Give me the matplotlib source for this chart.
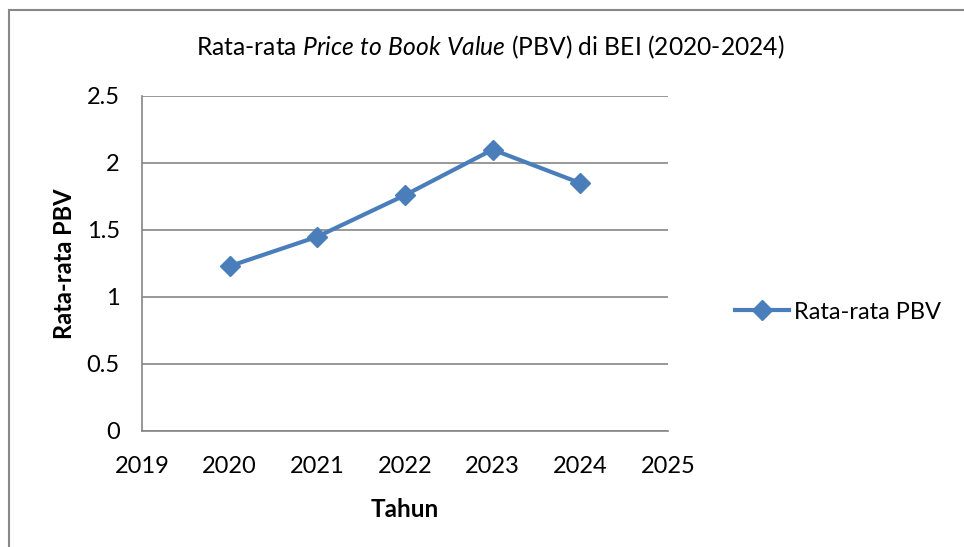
import matplotlib.pyplot as plt
from matplotlib.patches import Rectangle

# data
years = [2020, 2021, 2022, 2023, 2024]
pbv = [1.23, 1.45, 1.76, 2.10, 1.85]
x_ticks = [2019, 2020, 2021, 2022, 2023, 2024, 2025]
y_ticks = [0, 0.5, 1, 1.5, 2, 2.5]
y_tick_labels = ["0", "0.5", "1", "1.5", "2", "2.5"]

plt.rcParams["font.family"] = ["Lato", "DejaVu Sans"]
plt.rcParams["mathtext.fontset"] = "custom"
plt.rcParams["mathtext.rm"] = "Lato"
plt.rcParams["mathtext.it"] = "Lato:italic"

fig = plt.figure(figsize=(9.64, 5.47), dpi=100)
ax = fig.add_axes([0.1473, 0.2121, 0.5456, 0.6124])

# outer chart border
fig.patches.append(Rectangle((9 / 964, -0.1), 1.2, 1 - 10 / 547 + 0.1,
                             transform=fig.transFigure, fill=False,
                             edgecolor="#888888", linewidth=1.5))

ax.plot(years, pbv, color="#4A7EBB", linewidth=3, marker="D",
        markersize=10, markerfacecolor="#4A7EBB", markeredgecolor="#4A7EBB",
        label="Rata-rata PBV")

ax.set_xlim(2019, 2025)
ax.set_ylim(0, 2.5)
ax.set_xticks(x_ticks)
ax.set_yticks(y_ticks)
ax.set_yticklabels(y_tick_labels)
ax.tick_params(length=0, labelsize=17)
ax.tick_params(axis="x", pad=18)
ax.tick_params(axis="y", pad=16)
ax.grid(axis="y", color="#868686", linewidth=1.2)
ax.set_axisbelow(True)
for side in ["top", "right"]:
    ax.spines[side].set_visible(False)
for side in ["left", "bottom"]:
    ax.spines[side].set_color("#868686")
    ax.spines[side].set_linewidth(1.2)

fig.text(490 / 964, 1 - 47 / 547,
         "Rata-rata $\\it{Price\\ to\\ Book\\ Value}$ (PBV) di BEI (2020-2024)",
         fontsize=17.7, ha="center", va="center")
ax.set_xlabel("Tahun", fontsize=17.5, fontweight="bold", labelpad=15)
ax.set_ylabel("Rata-rata PBV", fontsize=17, fontweight="bold", labelpad=8)

ax.legend(loc="center left", bbox_to_anchor=(1.087, 0.355), frameon=False,
          fontsize=17, handlelength=2.3, handletextpad=0.2)

fig.savefig("out.png", dpi=100)
